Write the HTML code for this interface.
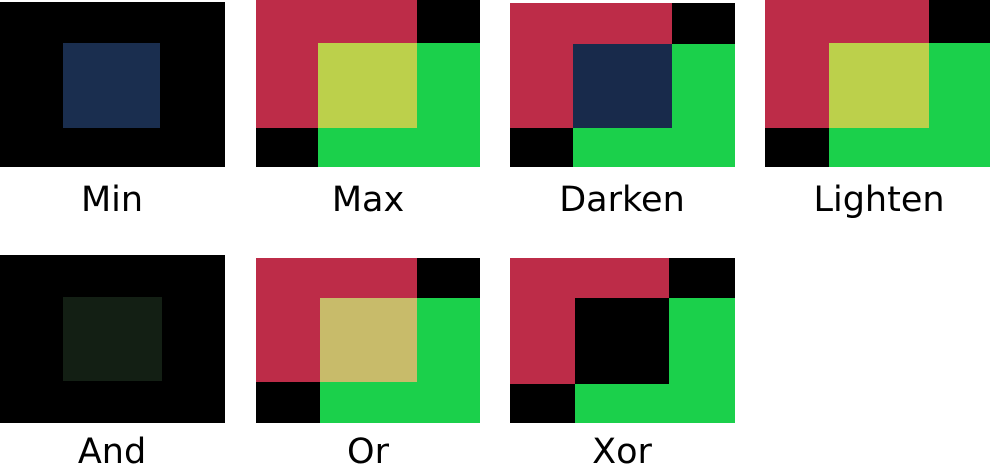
<!DOCTYPE html>
<html><head><meta charset="utf-8"><style>
html,body{margin:0;padding:0;background:#fff;width:990px;height:465px;overflow:hidden}
svg text{font-family:"DejaVu Sans","Liberation Sans",sans-serif;font-size:35px;fill:#000}
</style></head><body>
<svg width="990" height="465" viewBox="0 0 990 465">
<g>
<rect x="0" y="2" width="225" height="165" fill="#000"/>
<rect x="63" y="43" width="97" height="85" fill="#1a2e4f"/>
<text x="112" y="211" text-anchor="middle">Min</text>
</g>
<g>
<rect x="256" y="0" width="224" height="167" fill="#000"/>
<rect x="256" y="0" width="161" height="128" fill="#bd2c48"/>
<rect x="318" y="43" width="162" height="124" fill="#1bd04b"/>
<rect x="318" y="43" width="99" height="85" fill="#bcd04b"/>
<text x="368" y="211" text-anchor="middle">Max</text>
</g>
<g>
<rect x="510" y="3" width="225" height="164" fill="#000"/>
<rect x="510" y="3" width="162" height="125" fill="#bd2c48"/>
<rect x="573" y="44" width="162" height="123" fill="#1bd04b"/>
<rect x="573" y="44" width="99" height="84" fill="#182a4b"/>
<text x="622" y="211" text-anchor="middle">Darken</text>
</g>
<g>
<rect x="765" y="0" width="225" height="167" fill="#000"/>
<rect x="765" y="0" width="164" height="128" fill="#bd2c48"/>
<rect x="829" y="43" width="161" height="124" fill="#1bd04b"/>
<rect x="829" y="43" width="100" height="85" fill="#bcd04b"/>
<text x="879" y="211" text-anchor="middle">Lighten</text>
</g>
<g>
<rect x="0" y="255" width="225" height="168" fill="#000"/>
<rect x="63" y="297" width="99" height="84" fill="#131f14"/>
<text x="112" y="463" text-anchor="middle">And</text>
</g>
<g>
<rect x="256" y="258" width="224" height="165" fill="#000"/>
<rect x="256" y="258" width="161" height="124" fill="#bd2c48"/>
<rect x="320" y="298" width="160" height="125" fill="#1bd04b"/>
<rect x="320" y="298" width="97" height="84" fill="#c8bb6a"/>
<text x="368" y="463" text-anchor="middle">Or</text>
</g>
<g>
<rect x="510" y="258" width="225" height="165" fill="#000"/>
<rect x="510" y="258" width="159" height="126" fill="#bd2c48"/>
<rect x="575" y="298" width="160" height="125" fill="#1bd04b"/>
<rect x="575" y="298" width="94" height="86" fill="#000"/>
<text x="622" y="463" text-anchor="middle">Xor</text>
</g>
</svg>
</body></html>
